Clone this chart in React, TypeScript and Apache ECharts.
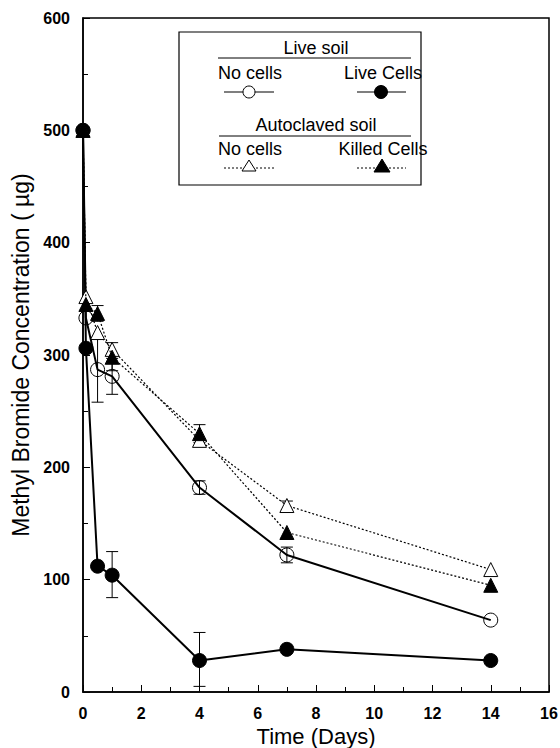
import React, { useEffect, useRef } from "react";
import * as echarts from "echarts";

const times = [0, 0.1, 0.5, 1, 4, 7, 14];
const liveCells = [500, 306, 112, 104, 28, 38, 28];
const liveNoCells = [500, 333, 287, 281, 182, 122, 64];
const autoNoCells = [500, 352, 320, 305, 224, 166, 109];
const killedCells = [500, 345, 337, 298, 230, 142, 95];

// [time, low, high]
const liveCellsErr = [[1, 84, 125], [4, 5, 53]];
const liveNoCellsErr = [[0.5, 258, 316], [1, 265, 297], [4, 176, 188], [7, 115, 129]];
const killedCellsErr = [[0.5, 330, 344], [1, 286, 311], [4, 222, 238]];
const autoNoCellsErr = [[7, 162, 170]];

const xTicks = [0, 2, 4, 6, 8, 10, 12, 14, 16];
const yTicks = [0, 100, 200, 300, 400, 500, 600];

const FONT = "'Liberation Sans', Arial, Helvetica, sans-serif";

function pairs(ys: number[]) {
  return times.map((t, i) => [t, ys[i]]);
}

function errSeries(data: number[][]) {
  return {
    type: "custom",
    data,
    z: 1,
    encode: { x: 0, y: [1, 2] },
    renderItem: (params: any, api: any) => {
      const x = api.value(0);
      const lo = api.coord([x, api.value(1)]);
      const hi = api.coord([x, api.value(2)]);
      const w = 6;
      const st = { stroke: "#000", lineWidth: 1 };
      return {
        type: "group",
        children: [
          { type: "line", shape: { x1: lo[0], y1: lo[1], x2: hi[0], y2: hi[1] }, style: st },
          { type: "line", shape: { x1: lo[0] - w, y1: lo[1], x2: lo[0] + w, y2: lo[1] }, style: st },
          { type: "line", shape: { x1: hi[0] - w, y1: hi[1], x2: hi[0] + w, y2: hi[1] }, style: st },
        ],
      };
    },
  };
}

export default function App() {
  const ref = useRef<HTMLDivElement>(null);
  useEffect(() => {
    document.body.style.margin = "0";
    const chart = echarts.init(ref.current!, null, { renderer: "svg" });
    const txt = (x: number, y: number, text: string, align = "center") => ({
      type: "text",
      x,
      y,
      style: { text, font: `18px ${FONT}`, fill: "#000", textAlign: align, textVerticalAlign: "middle" },
      z: 100,
    });
    const ln = (x1: number, y1: number, x2: number, y2: number, dash?: number[], lw = 1) => ({
      type: "line",
      shape: { x1, y1, x2, y2 },
      style: { stroke: "#000", lineWidth: lw, lineDash: dash },
      z: 100,
    });
    chart.setOption({
      animation: false,
      backgroundColor: "#fff",
      grid: {
        left: 83,
        right: 11,
        top: 18,
        bottom: 56,
        containLabel: false,
        outerBoundsMode: "none",
        show: true,
        borderColor: "#000",
        borderWidth: 1.5,
        backgroundColor: "transparent",
      },
      xAxis: {
        type: "value",
        min: xTicks[0],
        max: xTicks[xTicks.length - 1],
        interval: 2,
        name: "Time (Days)",
        nameLocation: "middle",
        nameGap: 28,
        nameTextStyle: { fontSize: 22, fontFamily: FONT, color: "#000" },
        axisLine: { lineStyle: { color: "#000", width: 1.5 } },
        axisTick: { inside: true, length: 7, lineStyle: { color: "#000" } },
        minorTick: { show: true, splitNumber: 2, length: 5, lineStyle: { color: "#000" } },
        axisLabel: { fontSize: 16, fontWeight: "bold", fontFamily: FONT, color: "#000", margin: 13 },
        splitLine: { show: false },
      },
      yAxis: {
        type: "value",
        min: yTicks[0],
        max: yTicks[yTicks.length - 1],
        interval: 100,
        name: "Methyl Bromide Concentration ( µg)",
        nameLocation: "middle",
        nameGap: 50,
        nameTextStyle: { fontSize: 23, fontFamily: FONT, color: "#000" },
        axisLine: { show: true, lineStyle: { color: "#000", width: 1.5 } },
        axisTick: { show: true, inside: true, length: 7, lineStyle: { color: "#000" } },
        minorTick: { show: true, splitNumber: 2, length: 5, lineStyle: { color: "#000" } },
        axisLabel: { fontSize: 16, fontWeight: "bold", fontFamily: FONT, color: "#000", margin: 13 },
        splitLine: { show: false },
      },
      series: [
        errSeries(liveCellsErr),
        errSeries(liveNoCellsErr),
        errSeries(killedCellsErr),
        errSeries(autoNoCellsErr),
        {
          type: "line",
          data: pairs(liveNoCells),
          symbol: "circle",
          symbolSize: 14,
          lineStyle: { color: "#000", width: 2 },
          itemStyle: { color: "transparent", borderColor: "#000", borderWidth: 1 },
          z: 3,
        },
        {
          type: "line",
          data: pairs(liveCells),
          symbol: "circle",
          symbolSize: 14,
          lineStyle: { color: "#000", width: 2 },
          itemStyle: { color: "#000", borderColor: "#000", borderWidth: 1 },
          z: 4,
        },
        {
          type: "line",
          data: pairs(autoNoCells),
          symbol: "triangle",
          symbolSize: 14,
          lineStyle: { color: "#000", width: 1.2, type: [2, 2] },
          itemStyle: { color: "#fff", borderColor: "#000", borderWidth: 1 },
          z: 5,
        },
        {
          type: "line",
          data: pairs(killedCells),
          symbol: "triangle",
          symbolSize: 14,
          lineStyle: { color: "#000", width: 1.2, type: [2, 2] },
          itemStyle: { color: "#000", borderColor: "#000", borderWidth: 1 },
          z: 6,
        },
      ],
      graphic: [
        {
          type: "rect",
          shape: { x: 179, y: 32, width: 242, height: 153 },
          style: { fill: "#fff", stroke: "#000", lineWidth: 1.2 },
          z: 99,
        },
        txt(316, 48, "Live soil"),
        ln(218, 58, 411, 58),
        txt(250, 73, "No cells"),
        txt(383, 73, "Live Cells"),
        ln(224, 92, 274, 92, undefined, 1.2),
        { type: "circle", shape: { cx: 249, cy: 92, r: 6 }, style: { fill: "#fff", stroke: "#000", lineWidth: 1 }, z: 101 },
        ln(357, 92, 406, 92, undefined, 1.2),
        { type: "circle", shape: { cx: 381, cy: 92, r: 6.5 }, style: { fill: "#000", stroke: "#000" }, z: 101 },
        txt(316, 125, "Autoclaved soil"),
        ln(219, 136, 411, 136),
        txt(250, 149, "No cells"),
        txt(383, 149, "Killed Cells"),
        ln(224, 168, 274, 168, [2, 2]),
        {
          type: "polygon",
          shape: { points: [[249, 160], [242, 171], [256, 171]] },
          style: { fill: "#fff", stroke: "#000", lineWidth: 1 },
          z: 101,
        },
        ln(357, 168, 406, 168, [2, 2]),
        {
          type: "polygon",
          shape: { points: [[382, 159], [374, 172], [390, 172]] },
          style: { fill: "#000", stroke: "#000", lineWidth: 1 },
          z: 101,
        },
      ],
    });
    return () => chart.dispose();
  }, []);
  return <div ref={ref} style={{ width: 560, height: 748 }} />;
}
